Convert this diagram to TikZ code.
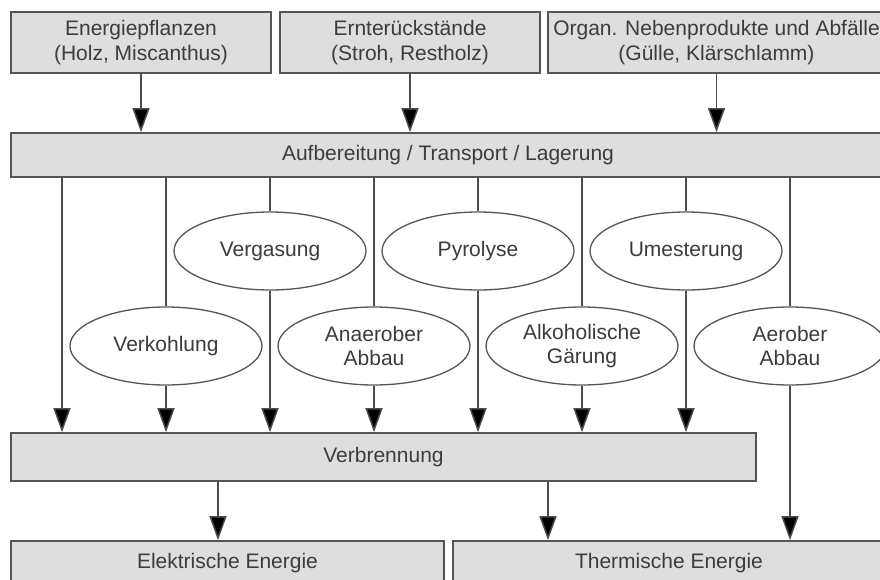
\documentclass[tikz,border=0pt]{standalone}
\usepackage{fontspec}
\setmainfont{Liberation Sans}
\usepackage{xcolor}
\definecolor{boxfill}{RGB}{222,222,222}
\definecolor{boxframe}{RGB}{85,85,85}
\definecolor{txtgray}{RGB}{60,60,60}
\usepackage{tikz}
\usetikzlibrary{shapes.geometric,arrows.meta,positioning,calc}
\tikzset{
  bm_box/.style={rectangle,draw=boxframe,fill=boxfill,line width=1.6pt,inner sep=0pt,
    minimum height=61pt,align=center,text=txtgray,font=\fontsize{21}{24.5}\selectfont},
  bm_bar/.style={rectangle,draw=boxframe,fill=boxfill,line width=1.6pt,inner sep=0pt,
    minimum height=44pt,align=center,text=txtgray,font=\fontsize{21}{24.5}\selectfont},
  bm_proc/.style={ellipse,draw=boxframe,fill=white,line width=1.3pt,inner sep=0pt,
    minimum width=192pt,minimum height=78pt,align=center,text=txtgray,
    font=\fontsize{21}{24}\selectfont},
  arr/.style={-{Triangle[length=24pt 0,width=17pt 0,fill=black]},line width=1.5pt,draw=black!70},
  ln/.style={line width=1.5pt,draw=black!70},
}
\begin{document}
\begin{tikzpicture}[x=1pt,y=-1pt]
  \useasboundingbox (0,0) rectangle (880,580);
  \clip (0,0) rectangle (880,580);
  % sources
  \node (src1)[bm_box,minimum width=260pt] at (141,42.5) {Energiepflanzen\\(Holz, Miscanthus)};
  \node (src2)[bm_box,minimum width=260pt] at (410,42.5) {Ernterückstände\\(Stroh, Restholz)};
  \node (src3)[bm_box,minimum width=337pt] at (716.5,42.5) {Organ. Nebenprodukte und Abfälle\\(Gülle, Klärschlamm)};
  \node (prep)[bm_bar,minimum width=874pt] at (448,155) {Aufbereitung / Transport / Lagerung};
  % conversion paths
  \node (gas) [bm_proc] at (270,251) {Vergasung};
  \node (pyr) [bm_proc] at (478,251) {Pyrolyse};
  \node (ume) [bm_proc] at (686,251) {Umesterung};
  \node (kohl)[bm_proc] at (166,346) {Verkohlung};
  \node (ana) [bm_proc] at (374,346) {Anaerober\\Abbau};
  \node (alk) [bm_proc] at (582,346) {Alkoholische\\Gärung};
  \node (aer) [bm_proc] at (790,346) {Aerober\\Abbau};
  \node (burn)[bm_bar,minimum width=745pt,minimum height=48pt] at (383.5,457) {Verbrennung};
  \node (elec)[bm_bar,minimum width=433pt] at (227.5,563) {Elektrische Energie};
  \node (therm)[bm_bar,minimum width=432pt] at (669,563) {Thermische Energie};
  \coordinate (c0) at (62,0);
  \coordinate (e1) at (218,0);
  \coordinate (e2) at (548,0);
  % connectors
  \draw[arr](src1.south)--(src1.south|-prep.north);
  \draw[arr](src2.south)--(src2.south|-prep.north);
  \draw[arr](src3.south)--(src3.south|-prep.north);
  \draw[arr](c0|-prep.south)--(c0|-burn.north);
  \draw[ln](kohl|-prep.south)--(kohl.north); \draw[arr](kohl.south)--(kohl|-burn.north);
  \draw[ln](gas|-prep.south)--(gas.north);   \draw[arr](gas.south)--(gas|-burn.north);
  \draw[ln](ana|-prep.south)--(ana.north);   \draw[arr](ana.south)--(ana|-burn.north);
  \draw[ln](pyr|-prep.south)--(pyr.north);   \draw[arr](pyr.south)--(pyr|-burn.north);
  \draw[ln](alk|-prep.south)--(alk.north);   \draw[arr](alk.south)--(alk|-burn.north);
  \draw[ln](ume|-prep.south)--(ume.north);   \draw[arr](ume.south)--(ume|-burn.north);
  \draw[ln](aer|-prep.south)--(aer.north);   \draw[arr](aer.south)--(aer|-therm.north);
  \draw[arr](e1|-burn.south)--(e1|-elec.north);
  \draw[arr](e2|-burn.south)--(e2|-therm.north);
\end{tikzpicture}
\end{document}
